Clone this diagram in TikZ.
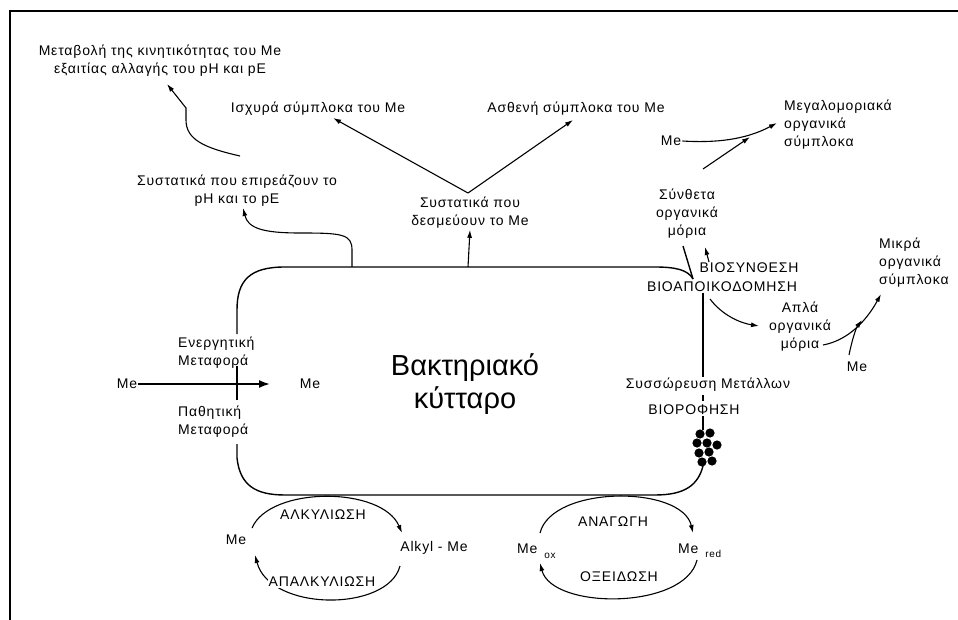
\documentclass[tikz,border=0pt]{standalone}
\usepackage{fontspec}
\setmainfont{Liberation Sans}[LetterSpace=6]
\newfontfamily\bigfont{Liberation Sans}
\usetikzlibrary{positioning,arrows.meta}
\pgfdeclarelayer{bg}
\pgfsetlayers{bg,main}

\tikzset{
  lbl/.style={font=\fontsize{14}{18}\selectfont, inner sep=1pt, align=center},
  lbll/.style={lbl, align=left, anchor=west},
  cyc/.style={lbl, fill=white},
  wall/.style={line width=1.4pt},
  arr/.style={line width=1.1pt, -{Latex[length=8pt,width=5pt]}},
}

\begin{document}
\begin{tikzpicture}[x=1pt, y=-1pt]
\useasboundingbox (0,0) rectangle (958,620);

% frame
\draw [line width=2pt] (10,620) -- (10,11) -- (958,11);

% cell
\node [font=\bigfont\fontsize{29}{33}\selectfont, align=center] (cell) at (465,384) {Βακτηριακό\\κύτταρο};

\draw [wall] (237,334) -- (237,310) .. controls (237,280) and (250,267) .. (285,267) -- (655,267) .. controls (676,267) and (688,270) .. (693,279);
\draw [wall] (237,366) -- (237,400);
\draw [wall] (237,444) -- (237,458) .. controls (240,485) and (255,495) .. (285,495) -- (655,495) .. controls (685,495) and (698,485) .. (703,466);

% labels on top
\node [lbl] (kin) at (160,61) {Μεταβολή της κινητικότητας του Me\\εξαιτίας αλλαγής του pH και pE};
\node [lbl] (phpe) at (237,191) {Συστατικά που επιρεάζουν το\\pH και το pE};
\node [lbl] (strong) at (318,109) {Ισχυρά σύμπλοκα του Me};
\node [lbl] (weak) at (576,109) {Ασθενή σύμπλοκα του Me};
\node [lbl] (bind) at (470,213) {Συστατικά που\\δεσμεύουν το Me};

\coordinate (kinA) at (240,156);
\coordinate (phA) at (352,267);
\coordinate (bindA) at (468,267);
\coordinate (apex) at (468,193);
\draw [arr] (kinA) .. controls (205,148) and (186,140) .. (186,120) -- (186,108) -- (167,84);
\draw [arr] (phA) -- (352,250) .. controls (352,234) and (342,233) .. (300,233) .. controls (262,233) and (248,228) .. (243,208);
\draw [arr] (bindA) -- (bind.south);
\draw [arr] (apex) -- (333,118);
\draw [arr] (apex) -- (573,120);

% right side
\node [lbl] (meTop) at (671,141) {Me};
\node [lbll] (large) at (783,125) {Μεγαλομοριακά\\οργανικά\\σύμπλοκα};
\node [lbl] (complex) at (687,214) {Σύνθετα\\οργανικά\\μόρια};
\node [lbl] (biosyn) at (749,268) {ΒΙΟΣΥΝΘΕΣΗ};
\node [lbl] (biodeg) at (722,287) {ΒΙΟΑΠΟΙΚΟΔΟΜΗΣΗ};
\node [lbll] (small) at (878,263) {Μικρά\\οργανικά\\σύμπλοκα};
\node [lbl] (simple) at (800,327) {Απλά\\οργανικά\\μόρια};
\node [lbl] (meRight) at (857,367) {Me};
\node [lbl] (accum) at (708,385) {Συσσώρευση Μετάλλων};
\node [lbl] (biosorp) at (694,410) {ΒΙΟΡΟΦΗΣΗ};

\coordinate (join1) at (750,137);
\coordinate (join2) at (862,320);
\draw [arr] (meTop.east) .. controls (715,143) and (745,140) .. (777,123);
\draw [arr] (703,169) -- (join1);
\draw [wall] (683,246) -- (693,279);
\draw [arr] (709,262) -- (705,247);
\draw [arr] (710,299) .. controls (722,315) and (740,323) .. (759,326);
\draw [arr] (823,345) .. controls (850,340) and (868,318) .. (881,294);
\draw [arr] (849,355) .. controls (852,340) and (856,328) .. (join2);

\draw [wall] (biodeg.south -| 703,0) -- (accum.north -| 703,0);
\draw [wall] (703,395) -- (703,401);
\draw [wall] (biosorp.south -| 703,0) -- (703,430);

% metal dots
\foreach \dx/\dy in {700/434, 710/433, 697/443, 707/443, 717/445, 699/453, 709/452, 702/462, 712/461}
  \fill (\dx,\dy) circle (4.6pt);

% transport
\node [lbll] (active) at (177,353) {Ενεργητική\\Μεταφορά};
\node [lbll] (passive) at (177,422) {Παθητική\\Μεταφορά};
\node [lbl] (meOut) at (127,384) {Me};
\node [lbl] (meIn) at (310,384) {Me};
\coordinate (inTip) at (270,384);
\draw [line width=1.8pt, -{Latex[length=11pt,width=8pt]}] (meOut.east) -- (inTip);

% alkylation cycle
\node [cyc] (meAlk) at (236,540) {Me};
\node [cyc] (alkyl) at (434,548) {Alkyl - Me};
\node [cyc] (alk) at (323,515) {ΑΛΚΥΛΙΩΣΗ};
\node [cyc] (dealk) at (322,582) {ΑΠΑΛΚΥΛΙΩΣΗ};

% redox cycle
\node [cyc, anchor=base west] (meOx) at (516,553) {Me\hspace{7pt}{\fontsize{10}{10}\selectfont\raisebox{-5pt}{ox}}};
\node [cyc, anchor=base west] (meRed) at (677,553) {Me\hspace{7pt}{\fontsize{10}{10}\selectfont\raisebox{-4pt}{red}}};
\node [cyc] (red) at (613,522) {ΑΝΑΓΩΓΗ};
\node [cyc] (oxid) at (619,577) {ΟΞΕΙΔΩΣΗ};

\coordinate (alkA) at (252,528);
\coordinate (alkB) at (402,533);
\coordinate (alkC) at (400,566);
\coordinate (alkD) at (255,555);
\coordinate (oxA) at (540,533);
\coordinate (oxB) at (693,533);
\coordinate (oxC) at (697,560);
\coordinate (oxD) at (540,563);
\begin{pgfonlayer}{bg}
\draw [arr] (alkA) .. controls (270,486) and (382,486) .. (alkB);
\draw [arr] (alkC) .. controls (388,612) and (270,612) .. (alkD);
\draw [arr] (oxA) .. controls (552,485) and (682,485) .. (oxB);
\draw [arr] (oxC) .. controls (685,610) and (552,610) .. (oxD);
\end{pgfonlayer}

\end{tikzpicture}
\end{document}
